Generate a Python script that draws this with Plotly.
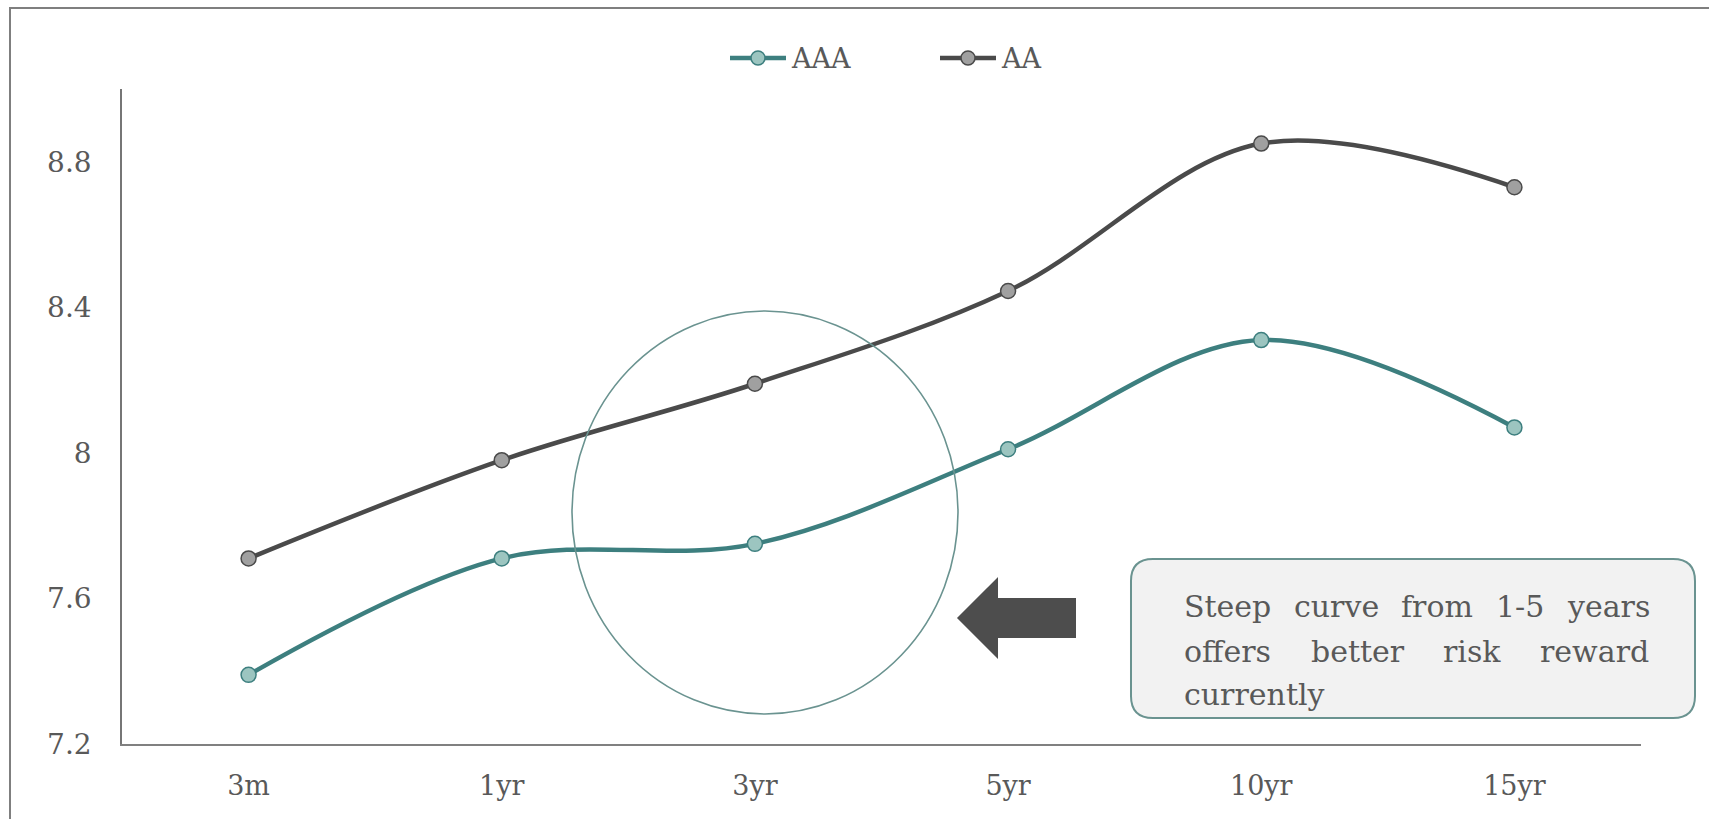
import plotly.graph_objects as go

# ---- data ----
tenors = ["3m", "1yr", "3yr", "5yr", "10yr", "15yr"]
aaa = [7.39, 7.71, 7.75, 8.01, 8.31, 8.07]
aa = [7.71, 7.98, 8.19, 8.445, 8.85, 8.73]
series_names = ["AAA", "AA"]
y_ticks = [7.2, 7.6, 8.0, 8.4, 8.8]
y_tick_labels = ["7.2", "7.6", "8", "8.4", "8.8"]
note_lines = [["Steep", "curve", "from", "1-5", "years"],
              ["offers", "better", "risk", "reward"],
              ["currently"]]

W, H = 1709, 819
L, R, T, B = 122, 1641, 89, 744   # plot area in page pixels

def px(x):
    return (x - L) / (R - L)

def py(y):
    return (B - y) / (B - T)

FONT = "DejaVu Serif"
TXT = "#595959"
TEAL = "#3d7f7f"
TEAL_FILL = "#9cc5c0"
DARK = "#4a4a4a"
DARK_FILL = "#a0a0a0"
OUTLINE = "#6a9390"

fig = go.Figure()
fig.add_trace(go.Scatter(
    x=tenors, y=aaa, name=series_names[0], mode="lines+markers", showlegend=False,
    line=dict(color=TEAL, width=4.5, shape="spline", smoothing=1.0),
    marker=dict(size=15, color=TEAL_FILL, line=dict(color=TEAL, width=1.5)),
))
fig.add_trace(go.Scatter(
    x=tenors, y=aa, name=series_names[1], mode="lines+markers", showlegend=False,
    line=dict(color=DARK, width=4.5, shape="spline", smoothing=1.0),
    marker=dict(size=15, color=DARK_FILL, line=dict(color=DARK, width=1.5)),
))

shapes = []
annotations = []
# outer border (extends past the right and bottom edges of the view)
shapes.append(dict(type="rect", xref="paper", yref="paper",
                   x0=px(10), x1=px(1780), y0=py(880), y1=py(8),
                   line=dict(color="#7f7f7f", width=2), fillcolor="rgba(0,0,0,0)"))

# legend (drawn)
legend_items = [(series_names[0], TEAL, TEAL_FILL, 730), (series_names[1], DARK, DARK_FILL, 940)]
ly = 58
for name, lc, fc, x0 in legend_items:
    shapes.append(dict(type="line", xref="paper", yref="paper",
                       x0=px(x0), x1=px(x0 + 56), y0=py(ly), y1=py(ly),
                       line=dict(color=lc, width=4.5)))
    shapes.append(dict(type="circle", xref="paper", yref="paper",
                       x0=px(x0 + 21), x1=px(x0 + 35), y0=py(ly + 7), y1=py(ly - 7),
                       fillcolor=fc, line=dict(color=lc, width=1.5)))
    annotations.append(dict(text=name, xref="paper", yref="paper", x=px(x0 + 59), y=py(ly),
                            xanchor="left", yanchor="middle", showarrow=False,
                            font=dict(family=FONT, size=27, color=TXT)))

# circle highlight
shapes.append(dict(type="circle", xref="paper", yref="paper",
                   x0=px(572), x1=px(958), y0=py(714), y1=py(311),
                   line=dict(color=OUTLINE, width=1.6), layer="above"))
# arrow
pts = [(957, 618), (998, 577), (998, 598), (1076, 598), (1076, 638), (998, 638), (998, 659)]
path = "M " + " L ".join(f"{px(a):.5f},{py(b):.5f}" for a, b in pts) + " Z"
shapes.append(dict(type="path", xref="paper", yref="paper", path=path,
                   fillcolor="#4d4d4d", line=dict(width=0)))
# rounded text box
x0b, x1b, y0b, y1b, r = 1131, 1695, 559, 718, 22
def P(a, b):
    return f"{px(a):.5f},{py(b):.5f}"
box = (f"M {P(x0b + r, y0b)} L {P(x1b - r, y0b)} Q {P(x1b, y0b)} {P(x1b, y0b + r)} "
       f"L {P(x1b, y1b - r)} Q {P(x1b, y1b)} {P(x1b - r, y1b)} "
       f"L {P(x0b + r, y1b)} Q {P(x0b, y1b)} {P(x0b, y1b - r)} "
       f"L {P(x0b, y0b + r)} Q {P(x0b, y0b)} {P(x0b + r, y0b)} Z")
shapes.append(dict(type="path", xref="paper", yref="paper", path=box,
                   fillcolor="#f2f2f2", line=dict(color=OUTLINE, width=2)))

# justified note text, word by word (approximate DejaVu Serif advance widths, em)
CW = {"S": .685, "t": .402, "e": .592, "p": .640, "c": .560, "u": .644, "r": .478,
      "v": .565, "f": .370, "o": .602, "m": .948, "1": .636, "-": .338, "5": .636,
      "y": .565, "a": .596, "s": .513, "b": .640, "i": .320, "k": .609, "w": .856,
      "d": .640, "n": .644, "l": .320}
NOTE_SIZE = 30
left_x, right_x = 1182, 1647
line_y = [606, 651, 694]
for li, words in enumerate(note_lines):
    widths = [sum(CW.get(ch, .6) for ch in w) * NOTE_SIZE for w in words]
    justify = li < len(note_lines) - 1
    gap = (right_x - left_x - sum(widths)) / (len(words) - 1) if justify else 0
    x = left_x
    for w, wd in zip(words, widths):
        annotations.append(dict(
            text=w, xref="paper", yref="paper", x=px(x), y=py(line_y[li]),
            xanchor="left", yanchor="middle", showarrow=False,
            font=dict(family=FONT, size=NOTE_SIZE, color=TXT)))
        x += wd + gap

fig.update_layout(
    width=W, height=H,
    margin=dict(l=L, r=W - R, t=T, b=H - B, pad=0),
    paper_bgcolor="white", plot_bgcolor="white",
    font=dict(family=FONT, size=27, color=TXT),
    showlegend=False,
    shapes=shapes, annotations=annotations,
    xaxis=dict(type="category", range=[-0.5, 5.5], showgrid=False, zeroline=False,
               showline=True, linecolor="#808080", linewidth=2, ticks="",
               ticklabelstandoff=17, tickfont=dict(family=FONT, size=27, color=TXT)),
    yaxis=dict(range=[7.2, 9.0], tickvals=y_ticks, ticktext=y_tick_labels,
               showgrid=False, zeroline=False, showline=True, linecolor="#767676",
               linewidth=1.5, ticks="", ticklabelstandoff=23,
               tickfont=dict(family=FONT, size=28, color=TXT)),
)

fig.write_html(
    "out.html",
    config={"displayModeBar": False},
    post_script="document.body.style.margin='0';document.body.style.overflow='hidden';",
)
